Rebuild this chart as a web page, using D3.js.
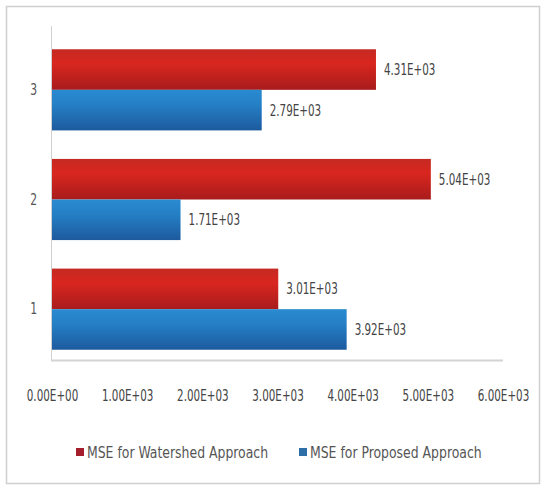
<!DOCTYPE html>
<html><head><meta charset="utf-8">
<script src="https://cdn.jsdelivr.net/npm/d3@7"></script>
<style>
body{margin:0;background:#fff;}
text{font-family:"DejaVu Sans Condensed","DejaVu Sans",sans-serif;font-stretch:condensed;}
</style></head>
<body>
<svg id="chart" width="543" height="485"></svg>
<script>
const categories = ["3", "2", "1"];
const seriesNames = ["MSE for Watershed Approach", "MSE for Proposed Approach"];
const watershed = [4310, 5040, 3010];
const proposed = [2790, 1710, 3920];
const valueLabels = [["4.31E+03", "2.79E+03"], ["5.04E+03", "1.71E+03"], ["3.01E+03", "3.92E+03"]];
const tickValues = [0, 1000, 2000, 3000, 4000, 5000, 6000];
const tickLabels = ["0.00E+00", "1.00E+03", "2.00E+03", "3.00E+03", "4.00E+03", "5.00E+03", "6.00E+03"];

const svg = d3.select("#chart");
const defs = svg.append("defs");
function grad(id, stops){
  const g = defs.append("linearGradient").attr("id", id).attr("x1",0).attr("y1",0).attr("x2",0).attr("y2",1);
  stops.forEach(s => g.append("stop").attr("offset", s[0]).attr("stop-color", s[1]));
}
grad("gRed", [[0,"#c42a22"],[0.35,"#d9261f"],[1,"#a81c1c"]]);
grad("gBlue", [[0,"#2a8ad0"],[0.35,"#2580c6"],[1,"#1d5a9e"]]);

// outer frame
svg.append("rect").attr("x",6.5).attr("y",6.5).attr("width",533).attr("height",477)
  .attr("fill","none").attr("stroke","#cfcfcf").attr("stroke-width",1.5);

const x = d3.scaleLinear().domain([0, 6000]).range([52, 503]);
const y = d3.scaleBand().domain(categories).range([35, 364]).paddingInner(0.26).paddingOuter(0.13);
const y2 = d3.scaleBand().domain([0, 1]).range([0, y.bandwidth()]);

// axes lines
svg.append("line").attr("x1",51.5).attr("x2",51.5).attr("y1",26).attr("y2",361).attr("stroke","#d0d0d0");
svg.append("line").attr("x1",51).attr("x2",x(6000)).attr("y1",360.5).attr("y2",360.5).attr("stroke","#d4d4d4").attr("stroke-width",2);

const xAxis = d3.axisBottom(x).tickValues(tickValues).tickFormat((d,i)=>tickLabels[i]).tickSize(0).tickPadding(0);
const xg = svg.append("g").attr("transform","translate(0,390)").call(xAxis);
xg.select(".domain").remove();
xg.selectAll("text").attr("font-size",16).attr("fill","#444").attr("dy","0.71em").attr("transform","scale(0.72,1)");

const yAxis = d3.axisLeft(y).tickSize(0).tickPadding(0);
const yg = svg.append("g").attr("transform","translate(37,0)").call(yAxis);
yg.select(".domain").remove();
yg.selectAll("text").attr("font-size",16).attr("fill","#555").attr("transform","scale(0.75,1)");

const rows = categories.map((c,i)=>({cat:c, vals:[watershed[i], proposed[i]], labels:valueLabels[i]}));
const fills = ["url(#gRed)","url(#gBlue)"];
rows.forEach(r=>{
  const g = svg.append("g").attr("transform",`translate(0,${y(r.cat)})`);
  g.selectAll("rect").data(r.vals).join("rect")
    .attr("x", x(0)).attr("y",(d,j)=>y2(j)).attr("width", d=>x(d)-x(0)).attr("height", y2.bandwidth())
    .attr("fill",(d,j)=>fills[j]);
  g.selectAll("text").data(r.vals).join("text")
    .attr("transform",(d,j)=>`translate(${x(d)+8},${y2(j)+y2.bandwidth()/2}) scale(0.72,1)`)
    .attr("dy","0.35em")
    .attr("font-size",16).attr("fill","#444").text((d,j)=>r.labels[j]);
});

// legend
const legendColors = ["#a51e2b", "#2d6ea8"];
const legendX = [76, 299];
seriesNames.forEach((n,i)=>{
  svg.append("rect").attr("x",legendX[i]).attr("y",448).attr("width",8).attr("height",8).attr("fill",legendColors[i]);
  svg.append("text").attr("transform",`translate(${legendX[i]+11},452) scale(0.865,1)`).attr("dy","0.35em").attr("font-size",16)
    .attr("fill","#555").text(n);
});
</script>
</body></html>
